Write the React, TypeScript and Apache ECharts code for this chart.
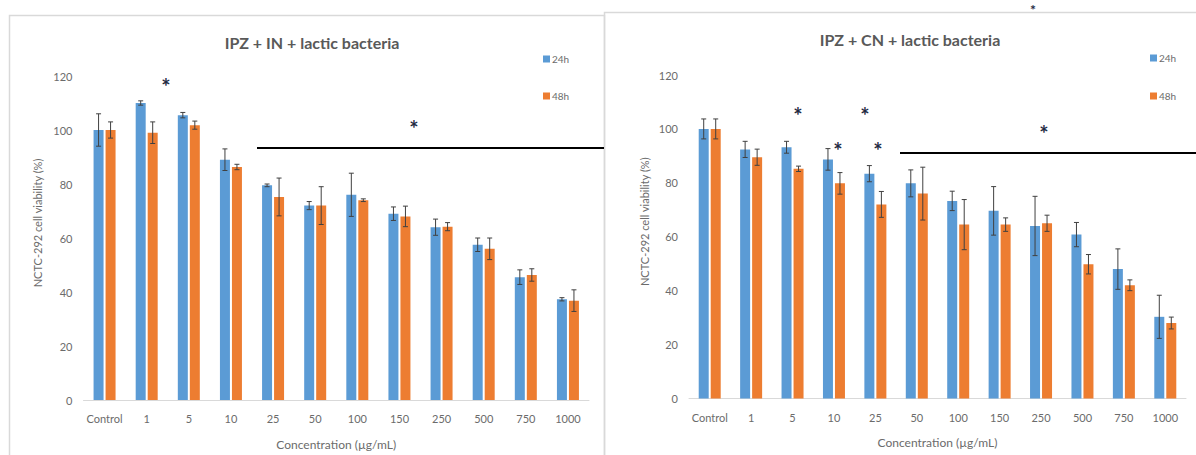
import React, { useEffect, useRef } from "react";
import * as echarts from "echarts";

const categories = ["Control", "1", "5", "10", "25", "50", "100", "150", "250", "500", "750", "1000"];

// IPZ + IN + lactic bacteria
const inLb24 = [100, 110, 105.5, 89, 79.5, 72, 76, 69, 64, 57.5, 45.5, 37.3];
const inLb24Err = [6, 0.8, 1, 4, 0.5, 1.5, 8, 2.5, 3, 2.5, 2.7, 0.6];
const inLb48 = [100, 99, 101.8, 86.3, 75.2, 72, 74, 68, 64.2, 56, 46.3, 36.8];
const inLb48Err = [3, 4, 1.5, 1, 7, 7, 0.5, 3.8, 1.5, 4, 2.3, 4];

// IPZ + CN + lactic bacteria
const cnLb24 = [100, 92.4, 93.2, 88.7, 83.4, 79.8, 73.3, 69.6, 64, 60.8, 48, 30.3];
const cnLb24Err = [3.7, 3, 2.2, 4, 3, 5, 3.6, 9, 11, 4.5, 7.5, 8];
const cnLb48 = [100, 89.5, 85.2, 79.8, 72, 76, 64.5, 64.5, 65, 49.8, 42, 28];
const cnLb48Err = [3.7, 3, 1, 4, 4.8, 9.8, 9.3, 2.5, 3, 3.6, 2, 2.2];

const seriesNames = ["24h", "48h"];
const titles = ["IPZ + IN + lactic bacteria", "IPZ + CN + lactic bacteria"];
const yAxisName = "NCTC-292 cell viability (%)";
const xAxisName = "Concentration (µg/mL)";

const BLUE = "#5B9BD5";
const ORANGE = "#ED7D31";
const TEXT = "#6b6b6b";
const FONT = "Lato, 'Open Sans', sans-serif";

function errSeries(values: number[], errs: number[], idx: number, offset: number) {
  return {
    type: "custom",
    name: "err" + idx + offset,
    xAxisIndex: idx,
    yAxisIndex: idx,
    z: 5,
    silent: true,
    encode: { x: 0, y: 1 },
    data: values.map((v, i) => [i, v, errs[i]]),
    renderItem: (params: any, api: any) => {
      const i = api.value(0);
      const v = api.value(1);
      const e = api.value(2);
      const top = api.coord([i, v + e]);
      const bot = api.coord([i, v - e]);
      const cx = top[0] + offset;
      const st = { stroke: "#404040", lineWidth: 1 };
      return {
        type: "group",
        children: [
          { type: "line", shape: { x1: cx, y1: top[1], x2: cx, y2: bot[1] }, style: st },
          { type: "line", shape: { x1: cx - 2.5, y1: top[1], x2: cx + 2.5, y2: top[1] }, style: st },
          { type: "line", shape: { x1: cx - 2.5, y1: bot[1], x2: cx + 2.5, y2: bot[1] }, style: st },
        ],
      };
    },
  };
}

function star(x: number, y: number, size = 22) {
  return {
    type: "text",
    x,
    y,
    z: 10,
    style: {
      text: "*",
      fill: "#1f2a44",
      font: "bold " + size + "px " + FONT,
      textAlign: "center",
      textVerticalAlign: "middle",
    },
  };
}

export default function App() {
  const ref = useRef<HTMLDivElement>(null);
  useEffect(() => {
    document.body.style.margin = "0";
    const chart = echarts.init(ref.current!, undefined, { renderer: "svg" });
    const grids = [
      { left: 83.5, top: 76, width: 505.5, height: 325 },
      { left: 689, top: 75, width: 497, height: 323.5 },
    ];
    const xAxes = grids.map((_, i) => ({
      type: "category",
      gridIndex: i,
      data: categories,
      axisLine: { lineStyle: { color: "#d9d9d9", width: 1 } },
      axisTick: { show: false },
      axisLabel: { color: TEXT, fontSize: 11, fontFamily: FONT, margin: 13, interval: 0 },
      name: xAxisName,
      nameLocation: "middle",
      nameGap: 38,
      nameTextStyle: { color: TEXT, fontSize: 12, fontFamily: FONT },
    }));
    const yAxes = grids.map((_, i) => ({
      type: "value",
      gridIndex: i,
      min: 0,
      max: 120,
      interval: 20,
      axisLine: { show: false },
      axisTick: { show: false },
      splitLine: { show: false },
      axisLabel: { color: TEXT, fontSize: 11, fontFamily: FONT, margin: 11 },
      name: yAxisName,
      nameLocation: "middle",
      nameGap: i === 0 ? 41 : 39,
      nameRotate: 90,
      nameTextStyle: { color: TEXT, fontSize: 11, fontFamily: FONT, padding: [0, 0, 0, 30] },
    }));
    const bar = (name: string, data: number[], idx: number, color: string) => ({
      type: "bar",
      name,
      xAxisIndex: idx,
      yAxisIndex: idx,
      data,
      barWidth: 10,
      barGap: "20%",
      itemStyle: { color },
    });
    const option = {
      animation: false,
      textStyle: { fontFamily: FONT },
      title: [
        { text: titles[0], left: 307, top: 29, textAlign: "center", textStyle: { fontSize: 16, fontWeight: "bold", color: "#595959", fontFamily: FONT } },
        { text: titles[1], left: 905, top: 26, textAlign: "center", textStyle: { fontSize: 16, fontWeight: "bold", color: "#595959", fontFamily: FONT } },
      ],
      legend: [
        {
          data: seriesNames, orient: "vertical", left: 538, top: 49, itemGap: 27, itemWidth: 7, itemHeight: 7, icon: "rect",
          textStyle: { color: TEXT, fontSize: 10, fontFamily: FONT, padding: [0, 0, 0, -3] },
        },
        {
          data: seriesNames, orient: "vertical", left: 1145, top: 48, itemGap: 28, itemWidth: 7, itemHeight: 7, icon: "rect",
          textStyle: { color: TEXT, fontSize: 10, fontFamily: FONT, padding: [0, 0, 0, -3] },
        },
      ],
      grid: grids,
      xAxis: xAxes,
      yAxis: yAxes,
      series: [
        bar(seriesNames[0], inLb24, 0, BLUE),
        bar(seriesNames[1], inLb48, 0, ORANGE),
        bar(seriesNames[0], cnLb24, 1, BLUE),
        bar(seriesNames[1], cnLb48, 1, ORANGE),
        errSeries(inLb24, inLb24Err, 0, -6),
        errSeries(inLb48, inLb48Err, 0, 6),
        errSeries(cnLb24, cnLb24Err, 1, -6),
        errSeries(cnLb48, cnLb48Err, 1, 6),
      ],
      graphic: [
        { type: "rect", shape: { x: 9.5, y: 15.5, width: 595, height: 460 }, style: { fill: "none", stroke: "#d9d9d9", lineWidth: 1.5 }, z: 0 },
        { type: "rect", shape: { x: 604.5, y: 12.5, width: 600, height: 460 }, style: { fill: "none", stroke: "#d9d9d9", lineWidth: 1.5 }, z: 0 },
        { type: "line", shape: { x1: 257, y1: 148, x2: 604, y2: 148 }, style: { stroke: "#000", lineWidth: 2 }, z: 10 },
        { type: "line", shape: { x1: 900, y1: 153, x2: 1196, y2: 153 }, style: { stroke: "#000", lineWidth: 2 }, z: 10 },
        star(166, 86),
        star(414, 128),
        star(798, 115),
        star(865, 115),
        star(838, 150),
        star(878, 150),
        star(1044, 133),
        star(1033, 9, 14),
      ],
    };
    chart.setOption(option as any);
    return () => chart.dispose();
  }, []);
  return <div ref={ref} style={{ width: 1196, height: 455, background: "#fff" }} />;
}
